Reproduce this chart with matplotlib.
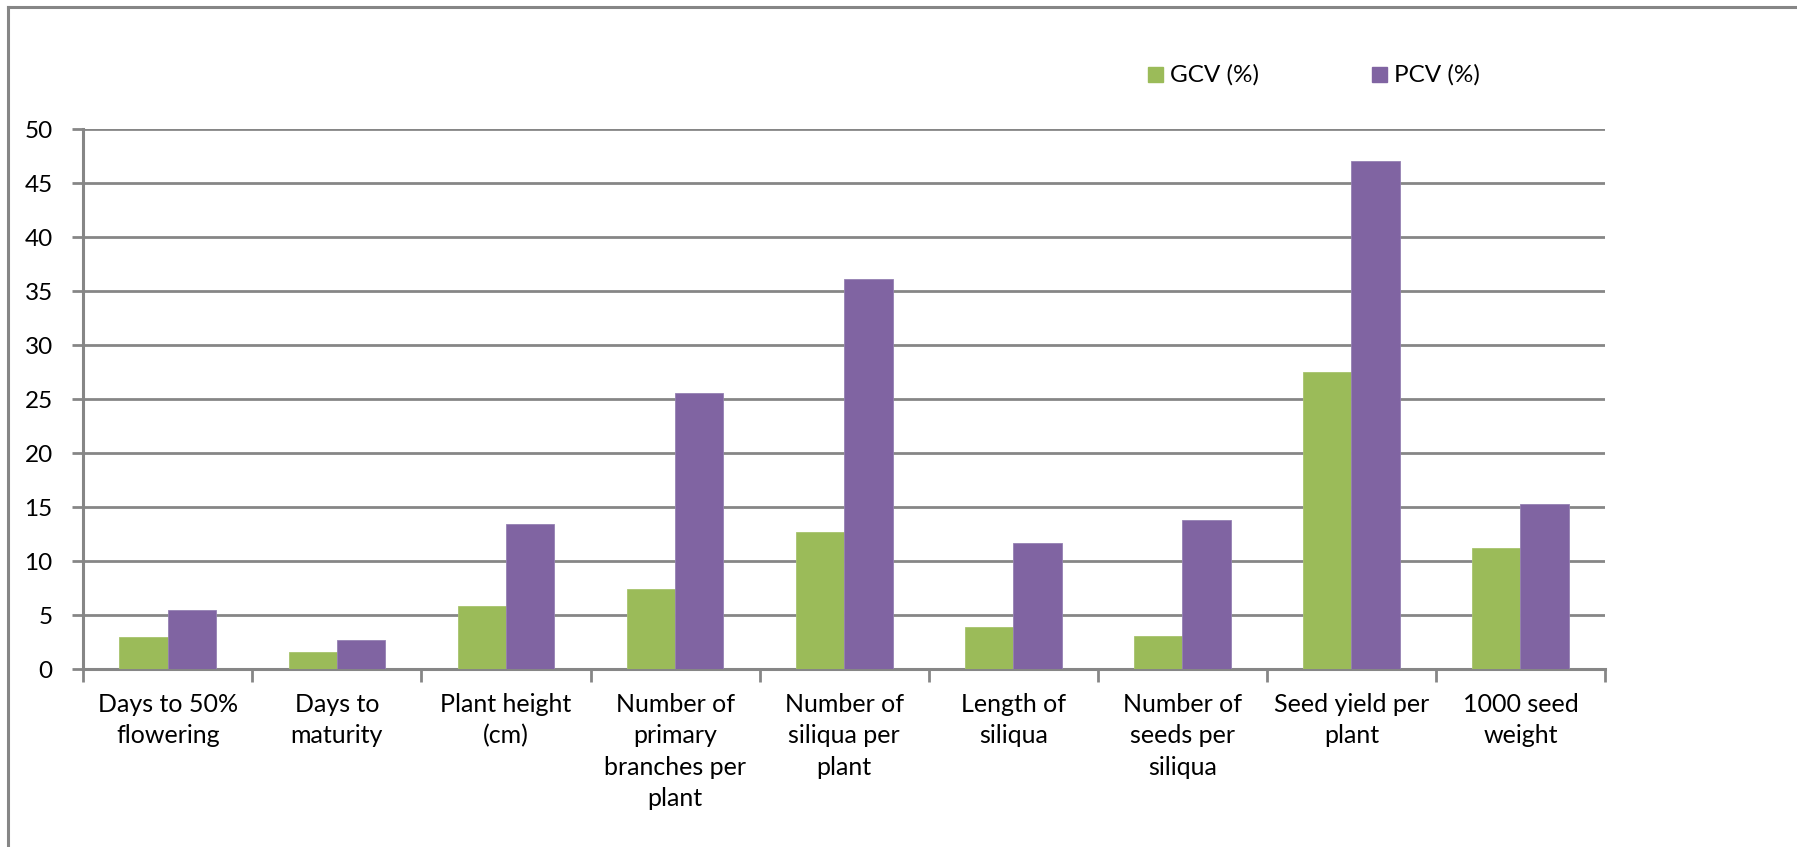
import matplotlib
matplotlib.use("Agg")
import matplotlib.pyplot as plt
import numpy as np
from matplotlib.patches import Rectangle
from matplotlib.lines import Line2D

plt.rcParams['font.family'] = ['Lato', 'DejaVu Sans']

traits = ["Days to 50%\nflowering", "Days to\nmaturity", "Plant height\n(cm)",
          "Number of\nprimary\nbranches per\nplant", "Number of\nsiliqua per\nplant",
          "Length of\nsiliqua", "Number of\nseeds per\nsiliqua", "Seed yield per\nplant",
          "1000 seed\nweight"]
gcv = [3.0, 1.6, 5.8, 7.4, 12.7, 3.9, 3.1, 27.5, 11.2]
pcv = [5.5, 2.7, 13.4, 25.6, 36.1, 11.7, 13.8, 47.1, 15.3]
series_names = ["GCV (%)", "PCV (%)"]
y_ticks = list(range(0, 55, 5))

green = "#9BBB59"
purple = "#8064A2"
grid_gray = "#868686"

W, H = 1797, 847
fig = plt.figure(figsize=(W / 100, H / 100), dpi=100)

# outer chart frame (left and top edges)
fig.add_artist(Line2D([8 / W, 8 / W], [0, 1 - 7 / H], color=grid_gray, lw=2.2,
                      transform=fig.transFigure))
fig.add_artist(Line2D([8 / W, 1], [1 - 7 / H, 1 - 7 / H], color=grid_gray, lw=2.2,
                      transform=fig.transFigure))

ax = fig.add_axes([83.3 / W, 1 - 669 / H, (1605 - 83.3) / W, (669 - 129.3) / H])

x = np.arange(len(traits))
bw = 0.286
ax.bar(x - bw / 2, gcv, width=bw, color=green, edgecolor="#a8c46e", linewidth=0.6,
       label=series_names[0], zorder=3)
ax.bar(x + bw / 2, pcv, width=bw, color=purple, edgecolor="#9580b3", linewidth=0.6,
       label=series_names[1], zorder=3)

ax.set_xlim(-0.5, len(traits) - 0.5)
ax.set_ylim(0, 50)
ax.set_yticks(y_ticks)
ax.set_yticklabels([str(v) for v in y_ticks])
ax.yaxis.grid(True, color=grid_gray, lw=2.0, zorder=0)
ax.set_axisbelow(True)

for s in ["top", "right"]:
    ax.spines[s].set_visible(False)
for s in ["left", "bottom"]:
    ax.spines[s].set_color(grid_gray)
    ax.spines[s].set_linewidth(2.2)

# category boundary ticks on the x axis
ax.set_xticks(np.arange(-0.5, len(traits), 1.0))
ax.set_xticklabels([])
ax.set_xticks(x, minor=True)
ax.set_xticklabels(traits, minor=True, fontsize=18, linespacing=1.45, va="top")
ax.tick_params(axis="x", which="major", length=9, width=2, color=grid_gray, direction="out")
ax.tick_params(axis="x", which="minor", length=0, pad=17)
ax.tick_params(axis="y", length=8, width=2, color=grid_gray, labelsize=17.5, pad=14)

# legend
leg_y = 1 - 75 / H
for x0, name, col in [(1148, series_names[0], green), (1372, series_names[1], purple)]:
    fig.add_artist(Rectangle((x0 / W, 1 - 82 / H), 15 / W, 15 / H, color=col,
                             transform=fig.transFigure))
    fig.text((x0 + 22) / W, leg_y, name, fontsize=17.5, va="center", ha="left")

fig.savefig("out.png", dpi=100, facecolor="white")
